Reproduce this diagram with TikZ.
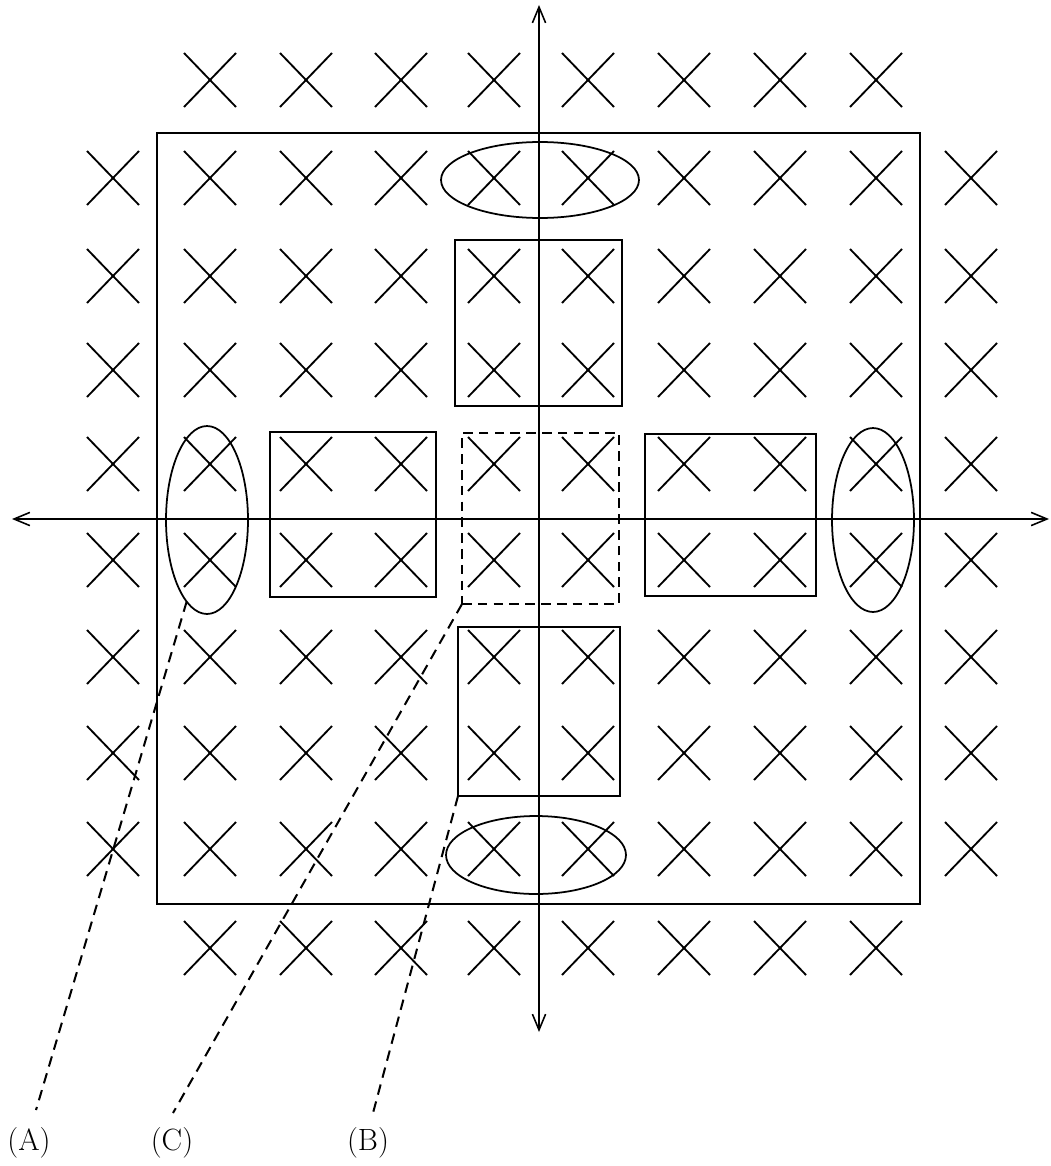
\documentclass[tikz,border=0pt]{standalone}
\usetikzlibrary{shapes.geometric,arrows.meta}
\newcommand{\crossat}[2]{\draw[xm] (#1-26,#2-27) -- (#1+26,#2+27) (#1-26,#2+27) -- (#1+26,#2-27);}
\begin{document}
\begin{tikzpicture}[x=0.02cm,y=-0.02cm,line width=1pt,
  xm/.style={line width=1.05pt},
  box/.style={draw,rectangle,inner sep=0pt,outer sep=0pt},
  oval/.style={draw,ellipse,inner sep=0pt,outer sep=0pt},
  dbox/.style={box,dash pattern=on 5.5pt off 3.5pt},
  lead/.style={dash pattern=on 6pt off 4pt,line width=1.15pt},
  axis/.style={{Straight Barb[length=9pt,width=7.5pt]}-{Straight Barb[length=9pt,width=7.5pt]},line width=0.9pt},
  lab/.style={inner sep=0pt,font=\fontsize{17.5}{21}\selectfont}]
\useasboundingbox (0,0) rectangle (1051,1166);
% crosses
\foreach \c in {210,306,401,494,588,684,780,876} {\crossat{\c}{80}\crossat{\c}{948}}
\foreach \r in {178,276,370,464,560,657,753,849}
  \foreach \c in {113,210,306,401,494,588,684,780,876,971} {\crossat{\c}{\r}}
% outer frame
\node[box,minimum width=15.26cm,minimum height=15.42cm] (frame) at (538.5,518.5) {};
% inner shapes
\node[oval,minimum width=3.96cm,minimum height=1.52cm] (topov) at (540,180) {};
\node[box,minimum width=3.34cm,minimum height=3.32cm] (upbox) at (538.5,323) {};
\node[oval,minimum width=1.64cm,minimum height=3.76cm] (leftov) at (207,520) {};
\node[box,minimum width=3.32cm,minimum height=3.30cm] (lbox) at (353,514.5) {};
\node[dbox,minimum width=3.14cm,minimum height=3.42cm] (dashbox) at (540.5,518.5) {};
\node[box,minimum width=3.42cm,minimum height=3.24cm] (rbox) at (730.5,515) {};
\node[oval,minimum width=1.64cm,minimum height=3.68cm] (rightov) at (873,520) {};
\node[box,minimum width=3.24cm,minimum height=3.38cm] (lowbox) at (539,711.5) {};
\node[oval,minimum width=3.60cm,minimum height=1.56cm] (botov) at (536,855) {};
% axes
\coordinate (ytop) at (539,5);
\coordinate (ybot) at (539,1032);
\coordinate (xl) at (12,519);
\coordinate (xr) at (1049,519);
\draw[axis] (ytop) -- (ybot);
\draw[axis] (xl) -- (xr);
% labels and leaders
\node[lab] (lA) at (29,1143) {(A)};
\node[lab] (lC) at (172,1143) {(C)};
\node[lab] (lB) at (368,1143) {(B)};
\coordinate (eA) at (36,1110);
\coordinate (eC) at (173,1113);
\coordinate (eB) at (373,1113);
\draw[lead] (leftov.256) -- (eA);
\draw[lead] (dashbox.south west) -- (eC);
\draw[lead] (lowbox.south west) -- (eB);
\end{tikzpicture}
\end{document}
